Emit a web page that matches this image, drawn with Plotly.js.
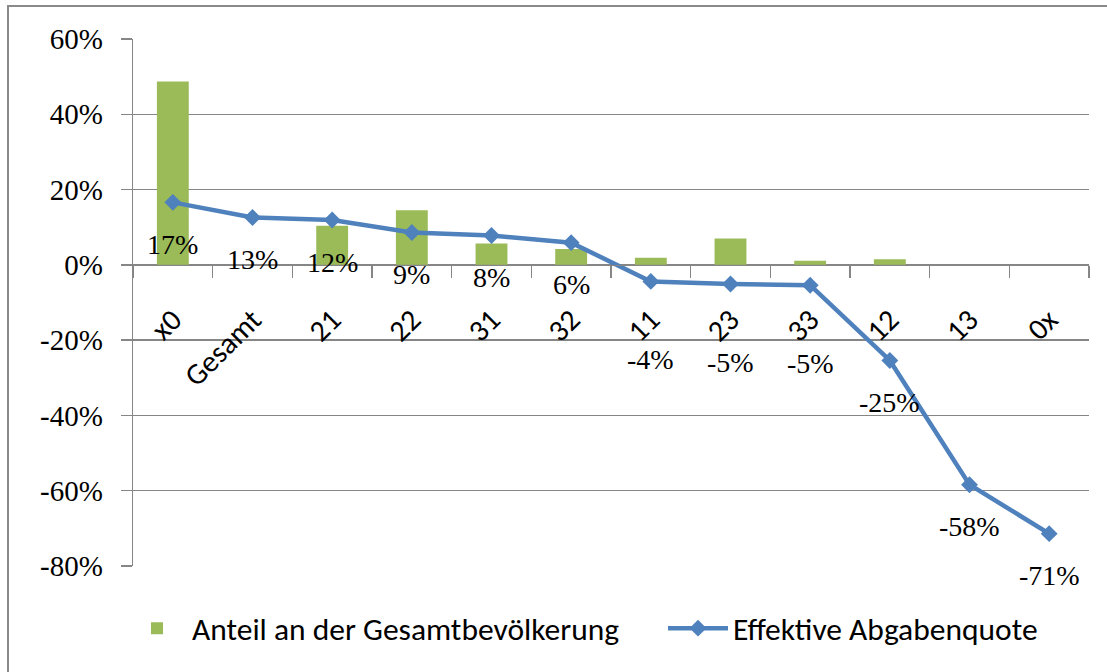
<!DOCTYPE html>
<html>
<head>
<meta charset="utf-8">
<script src="https://cdn.plot.ly/plotly-3.0.1.min.js"></script>
<style>
  html, body { margin: 0; padding: 0; background: #ffffff; overflow: hidden; }
  #frame { position: absolute; left: 7px; top: 5px; width: 1200px; height: 800px;
           border-left: 2px solid #8a8a8a; border-top: 2px solid #8a8a8a; box-sizing: border-box; }
  #chart { position: absolute; left: 0; top: 0; width: 1107px; height: 672px; }
</style>
</head>
<body>
<div id="frame"></div>
<div id="chart"></div>
<script>
// ---- data ----
const categories = ["x0", "Gesamt", "21", "22", "31", "32", "11", "23", "33", "12", "13", "0x"];
const anteilGesamtbevoelkerung = [48.7, 0, 10.4, 14.5, 5.7, 4.2, 1.9, 7.0, 1.1, 1.5, 0, 0];
const effektiveAbgabenquote = [16.6, 12.6, 11.9, 8.6, 7.8, 5.9, -4.4, -5.1, -5.4, -25.4, -58.4, -71.4];
const seriesNames = ["Anteil an der Gesamtbevölkerung", "Effektive Abgabenquote"];
const yTickValues = [-80, -60, -40, -20, 0, 20, 40, 60];

// ---- styles (kept apart from the data) ----
const labelShift = [-42, -42, -42, -42, -42, -42, -78, -78, -78, -42, -42, -42];
const serif = "Liberation Serif, Times New Roman, serif";
const sans = "Carlito, Lato, sans-serif";
const yMin = -80, yMax = 60;

const traces = [
  {
    type: "bar",
    name: seriesNames[0],
    x: categories,
    y: anteilGesamtbevoelkerung,
    marker: { color: "#9BBB59" },
    legendwidth: 466,
    hoverinfo: "skip"
  },
  {
    type: "scatter",
    mode: "lines+markers",
    name: seriesNames[1],
    x: categories,
    y: effektiveAbgabenquote,
    line: { color: "#4F81BD", width: 4.5 },
    marker: { symbol: "diamond", size: 13, color: "#4F81BD" },
    legendwidth: 320,
    hoverinfo: "skip"
  }
];

// category axes accept the category index as position
const annotations = effektiveAbgabenquote.map((v, i) => ({
  x: i,
  y: v,
  xref: "x",
  yref: "y",
  text: Math.round(v) + "%",
  showarrow: false,
  yshift: labelShift[i],
  font: { family: serif, size: 28, color: "#000000" }
}));

const layout = {
  width: 1107,
  height: 672,
  margin: { l: 133, r: 18, t: 39, b: 106 },
  paper_bgcolor: "rgba(0,0,0,0)",
  plot_bgcolor: "rgba(0,0,0,0)",
  bargap: 0.6,
  showlegend: true,
  legend: {
    orientation: "h",
    x: -0.0115,
    xanchor: "left",
    y: -0.118,
    yanchor: "middle",
    font: { family: sans, size: 31.5, color: "#000000" },
    itemwidth: 60,
    traceorder: "normal"
  },
  xaxis: {
    type: "category",
    categoryarray: categories,
    categoryorder: "array",
    range: [-0.5, categories.length - 0.5],
    autorange: false,
    anchor: "free",
    position: (0 - yMin) / (yMax - yMin),
    showline: true,
    linecolor: "#868686",
    linewidth: 1.3,
    ticks: "outside",
    tickson: "boundaries",
    dtick: 1,
    ticklen: 12,
    tickcolor: "#868686",
    tickwidth: 1.3,
    tickangle: -45,
    ticklabelstandoff: 24,
    showgrid: false,
    zeroline: false,
    tickfont: { family: sans, size: 30, color: "#000000" }
  },
  yaxis: {
    range: [yMin, yMax],
    autorange: false,
    tickvals: yTickValues,
    ticktext: yTickValues.map(v => v + "%"),
    showline: true,
    linecolor: "#868686",
    linewidth: 1.3,
    ticks: "outside",
    ticklen: 11,
    tickcolor: "#868686",
    tickwidth: 1.3,
    showgrid: true,
    gridcolor: "#868686",
    gridwidth: 1.3,
    zeroline: false,
    ticklabelstandoff: 12,
    tickfont: { family: serif, size: 29, color: "#000000" }
  },
  annotations: annotations
};

Plotly.newPlot("chart", traces, layout, { staticPlot: true, displayModeBar: false });
</script>
</body>
</html>
